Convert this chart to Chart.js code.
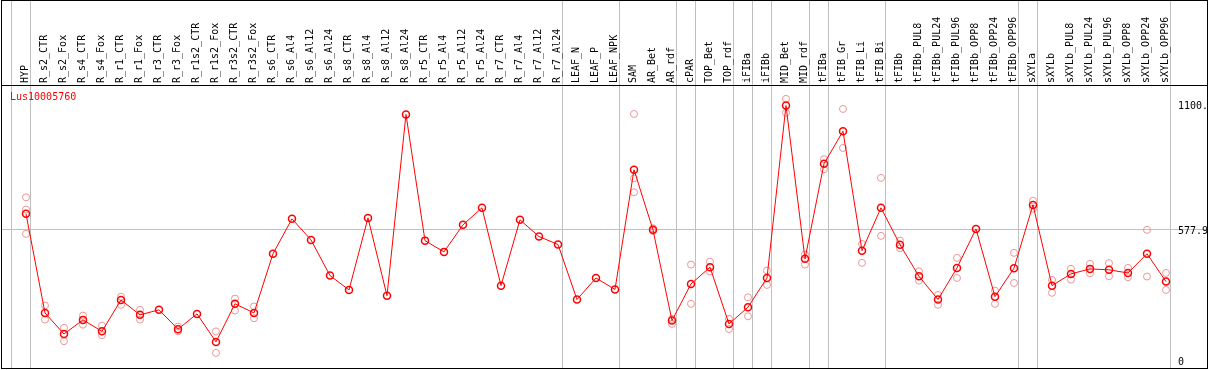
<!DOCTYPE html>
<html>
<head>
<meta charset="utf-8">
<script src="https://cdn.jsdelivr.net/npm/chart.js@4.4.1/dist/chart.umd.min.js"></script>
<style>
  html, body { margin: 0; padding: 0; background: #fff; }
  #wrap { position: relative; width: 1209px; height: 370px; }
  #frame { position: absolute; left: 1px; top: 0; width: 1207px; height: 369px;
           box-sizing: border-box; border: 1px solid #000; pointer-events: none; }
</style>
</head>
<body>
<div id="wrap">
  <canvas id="expChart" width="1209" height="370"></canvas>
  <div id="frame"></div>
</div>
<script>
const seriesName = 'Lus10005760';

const categories = [
    'HYP', 'R_s2_CTR', 'R_s2_Fox', 'R_s4_CTR', 'R_s4_Fox', 'R_r1_CTR', 'R_r1_Fox',
    'R_r3_CTR', 'R_r3_Fox', 'R_r1s2_CTR', 'R_r1s2_Fox', 'R_r3s2_CTR', 'R_r3s2_Fox',
    'R_s6_CTR', 'R_s6_Al4', 'R_s6_Al12', 'R_s6_Al24', 'R_s8_CTR', 'R_s8_Al4',
    'R_s8_Al12', 'R_s8_Al24', 'R_r5_CTR', 'R_r5_Al4', 'R_r5_Al12', 'R_r5_Al24',
    'R_r7_CTR', 'R_r7_Al4', 'R_r7_Al12', 'R_r7_Al24', 'LEAF_N', 'LEAF_P', 'LEAF_NPK',
    'SAM', 'AR_Bet', 'AR_rdf', 'cPAR', 'TOP_Bet', 'TOP_rdf', 'iFIBa', 'iFIBb',
    'MID_Bet', 'MID_rdf', 'tFIBa', 'tFIB_Gr', 'tFIB_Li', 'tFIB_Bi', 'tFIBb',
    'tFIBb_PUL8', 'tFIBb_PUL24', 'tFIBb_PUL96', 'tFIBb_OPP8', 'tFIBb_OPP24', 'tFIBb_OPP96',
    'sXYLa', 'sXYLb', 'sXYLb_PUL8', 'sXYLb_PUL24', 'sXYLb_PUL96', 'sXYLb_OPP8',
    'sXYLb_OPP24', 'sXYLb_OPP96'
];

// mean expression per sample
const meanValues = [
    644, 230, 142, 201, 153, 284, 222, 243, 162, 226, 109, 268, 230,
    477, 623, 535, 386, 326, 627, 302, 1059, 532, 485, 598, 669,
    344, 619, 549, 516, 286, 376, 328,
    828, 577, 198, 351, 421, 184, 254, 376, 1096, 456, 853, 989, 490, 669,
    515, 383, 286, 418, 581, 298, 417,
    681, 344, 393, 414, 410, 397, 477, 361
];

// replicate values (null where no replicate is shown)
const repA = [
    713, 261, 168, 219, 177, 298, 243, null, 173, null, 153, 290, 257,
    null, null, null, null, null, null, null, null, null, null, null, null,
    null, null, null, null, null, null, null,
    1061, 584, 184, 432, 444, 205, 295, 407, 1124, 474, 872, 1082, 518, 794,
    532, 404, 305, 460, null, 323, 481,
    699, 368, 414, 435, 438, 418, 577, 397
];
const repB = [
    662, 202, 112, 181, 137, 264, 202, null, 153, null, 63, 240, 208,
    null, null, null, null, null, null, null, null, null, null, null, null,
    null, null, null, null, null, null, null,
    792, 572, 205, 268, 403, 163, 216, 347, 1066, 432, 830, 919, 439, 552,
    500, 365, 264, 376, null, 268, 355,
    665, 314, 369, 396, 383, 379, 382, 326
];
const repC = [560].concat(new Array(31).fill(null), [734], new Array(28).fill(null));

// sample index after which a separator line is drawn
const groupBreaks = [-1, 0, 28, 31, 34, 35, 37, 38, 39, 41, 42, 45, 52, 53, 60];

const yTickValues = [577.9, 1100];
const yTickLabels = ['577.9', '1100.'];
const yZeroValues = [0];
const yZeroLabels = ['0'];

const X_MIN = -1.263;
const X_MAX = 62.158;
const Y_MAX = 1182;
const monoFont = { family: '"DejaVu Sans Mono", monospace', size: 10 };

function toPoints(values) {
    const pts = [];
    values.forEach((v, i) => {
        if (v !== null) pts.push({ x: i, y: v });
    });
    return pts;
}

// no label overflow padding, the chart area fills the frame
function noPadding(s) {
    s.paddingLeft = 0;
    s.paddingRight = 0;
    s.paddingTop = 0;
    s.paddingBottom = 0;
}

// series name in the top left corner of the plot
const seriesLabel = {
    id: 'seriesLabel',
    afterDraw(chart) {
        const ds = chart.data.datasets[0];
        const c = chart.ctx;
        c.save();
        c.font = '10px "DejaVu Sans Mono", monospace';
        c.fillStyle = ds.borderColor;
        c.textBaseline = 'middle';
        c.textAlign = 'left';
        c.fillText(ds.label, chart.chartArea.left + 8, chart.chartArea.top + 12);
        c.restore();
    }
};

document.addEventListener('DOMContentLoaded', function() {
    const ctx = document.getElementById('expChart').getContext('2d');
    new Chart(ctx, {
        type: 'line',
        data: {
            datasets: [
                {
                    label: seriesName,
                    data: toPoints(meanValues),
                    borderColor: '#ff0000',
                    borderWidth: 1,
                    pointStyle: 'circle',
                    pointRadius: 3.5,
                    pointBorderWidth: 1.5,
                    pointBorderColor: '#ff0000',
                    pointBackgroundColor: 'rgba(0,0,0,0)',
                    fill: false,
                    tension: 0,
                    order: 0
                },
                {
                    label: 'replicates',
                    data: toPoints(repA).concat(toPoints(repB), toPoints(repC)),
                    showLine: false,
                    pointStyle: 'circle',
                    pointRadius: 3.5,
                    pointBorderWidth: 1,
                    pointBorderColor: '#eb9696',
                    pointBackgroundColor: 'rgba(0,0,0,0)',
                    order: 1
                }
            ]
        },
        plugins: [seriesLabel],
        options: {
            responsive: false,
            animation: false,
            devicePixelRatio: 1,
            layout: { autoPadding: false, padding: { left: 2, right: 2, top: 0, bottom: 2 } },
            plugins: {
                tooltip: { enabled: false },
                legend: { display: false }
            },
            scales: {
                x: {
                    type: 'linear',
                    position: 'top',
                    weight: 1,
                    min: X_MIN,
                    max: X_MAX,
                    afterBuildTicks: s => { s.ticks = categories.map((c, i) => ({ value: i })); },
                    afterFit: s => { s.height = 85; noPadding(s); },
                    ticks: {
                        autoSkip: false,
                        minRotation: 90,
                        maxRotation: 90,
                        padding: 2,
                        labelOffset: 11,
                        color: '#000',
                        font: monoFont,
                        callback: v => categories[v]
                    },
                    grid: { display: true, drawOnChartArea: false, drawTicks: false, color: 'rgba(0,0,0,0)' },
                    border: { display: true, color: '#000', width: 1 }
                },
                xg: {
                    type: 'linear',
                    position: 'top',
                    weight: 0,
                    min: X_MIN,
                    max: X_MAX,
                    afterBuildTicks: s => { s.ticks = groupBreaks.map(b => ({ value: b + 0.24 })); },
                    afterFit: s => { s.height = 0; noPadding(s); },
                    ticks: { display: false },
                    grid: { color: '#c0c0c0', lineWidth: 1, drawTicks: true, tickLength: 85 },
                    border: { display: false }
                },
                y: {
                    position: 'right',
                    min: 0,
                    max: Y_MAX,
                    afterBuildTicks: s => { s.ticks = yTickValues.map(v => ({ value: v })); },
                    afterFit: s => { s.width = 0; noPadding(s); },
                    ticks: {
                        mirror: true,
                        crossAlign: 'far',
                        padding: 1,
                        labelOffset: 2,
                        color: '#000',
                        font: monoFont,
                        callback: v => yTickLabels[yTickValues.indexOf(v)]
                    },
                    grid: {
                        drawTicks: false,
                        lineWidth: 1,
                        color: c => (c.tick && c.tick.value === 577.9) ? '#c0c0c0' : 'rgba(0,0,0,0)'
                    },
                    border: { display: false }
                },
                y0: {
                    position: 'right',
                    min: 0,
                    max: Y_MAX,
                    afterBuildTicks: s => { s.ticks = yZeroValues.map(v => ({ value: v })); },
                    afterFit: s => { s.width = 0; noPadding(s); },
                    ticks: {
                        mirror: true,
                        crossAlign: 'far',
                        padding: -23,
                        labelOffset: -6,
                        color: '#000',
                        font: monoFont,
                        callback: v => yZeroLabels[yZeroValues.indexOf(v)]
                    },
                    grid: { display: false, drawTicks: false },
                    border: { display: false }
                }
            }
        }
    });
});
</script>
</body>
</html>
